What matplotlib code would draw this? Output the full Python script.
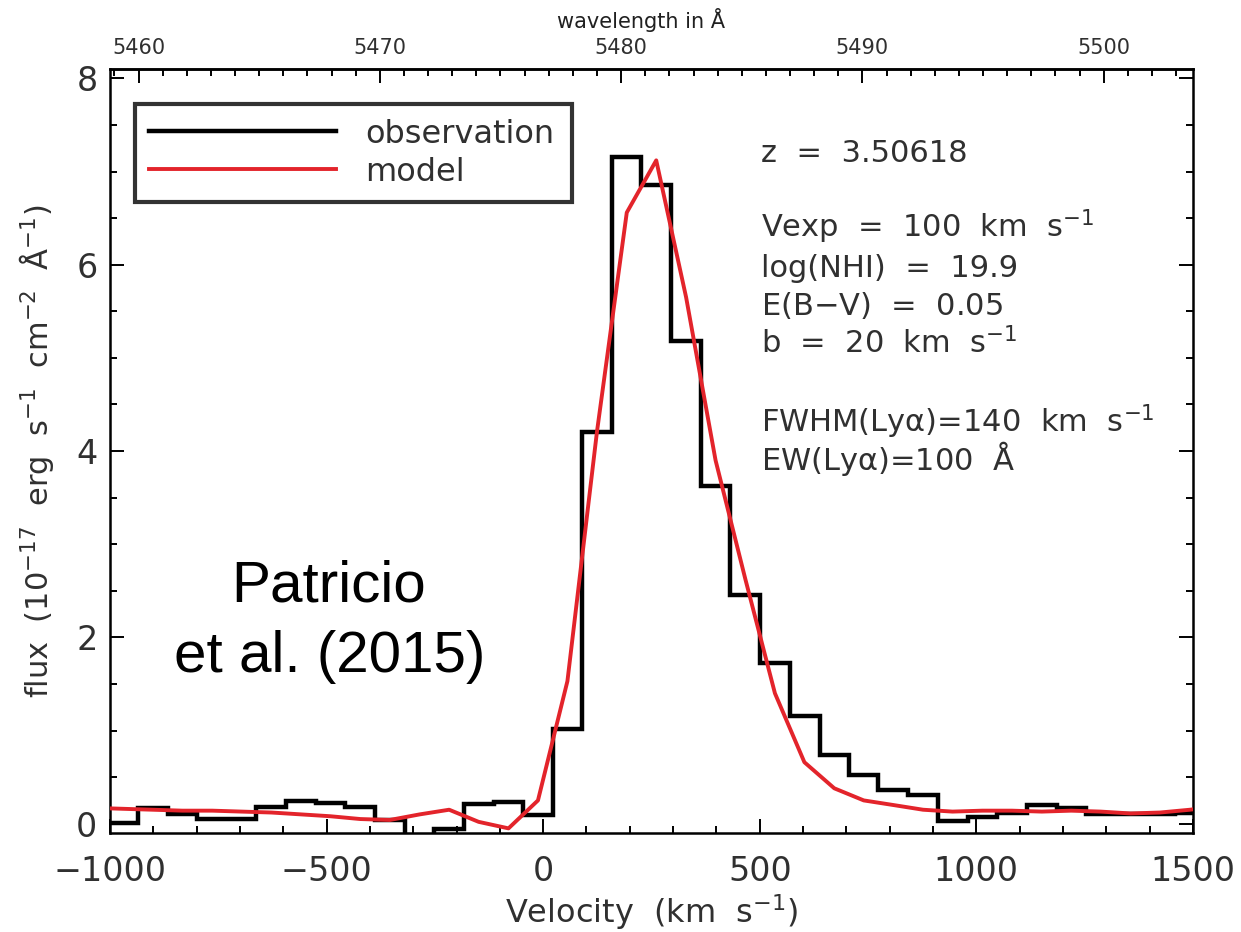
import matplotlib
matplotlib.use("Agg")
import matplotlib.pyplot as plt
from matplotlib.ticker import FixedLocator, MultipleLocator

plt.rcParams["font.family"] = ["DejaVu Sans"]
plt.rcParams["mathtext.default"] = "regular"

# observed spectrum: bin edges (km/s) and flux per bin
obs_edges = [-1004, -936, -867, -799, -730, -662, -594, -525, -457, -388,
             -320, -252, -183, -114, -46, 22, 90, 159, 227, 296,
             364, 432, 501, 569, 638, 706, 774, 843, 911, 980,
             1048, 1117, 1185, 1253, 1322, 1390, 1459, 1527]
obs_flux = [0.01, 0.17, 0.10, 0.05, 0.05, 0.18, 0.245, 0.22, 0.18, 0.04,
            -0.15, -0.06, 0.21, 0.23, 0.09, 1.02, 4.20, 7.16, 6.86, 5.18,
            3.62, 2.45, 1.72, 1.16, 0.74, 0.52, 0.36, 0.31, 0.03, 0.075,
            0.11, 0.20, 0.17, 0.10, 0.10, 0.10, 0.11]

# model spectrum sampled at bin centres
model_v = [-1038, -970, -901, -833, -764, -696, -627, -559, -491, -422,
           -354, -285, -217, -149, -80, -12, 56, 124, 193, 261,
           330, 398, 467, 535, 603, 672, 740, 809, 877, 945,
           1014, 1082, 1151, 1219, 1287, 1356, 1424, 1493, 1561]
model_flux = [0.17, 0.16, 0.15, 0.14, 0.14, 0.13, 0.12, 0.10, 0.08, 0.05,
              0.04, 0.10, 0.15, 0.02, -0.05, 0.25, 1.53, 4.2, 6.56, 7.12,
              5.65, 3.9, 2.62, 1.40, 0.66, 0.38, 0.25, 0.20, 0.15, 0.13,
              0.14, 0.14, 0.13, 0.14, 0.13, 0.11, 0.12, 0.15, 0.19]

fit_text = [
    "z  =  3.50618",
    "Vexp  =  100  km  s$^{-1}$",
    "log(NHI)  =  19.9",
    "E(B$-$V)  =  0.05",
    "b  =  20  km  s$^{-1}$",
    "FWHM(Ly$\\alpha$)=140  km  s$^{-1}$",
    "EW(Ly$\\alpha$)=100  Å",
]
fit_text_y = [0.878, 0.779, 0.728, 0.678, 0.628, 0.525, 0.475]

wave_ticks = [5460, 5470, 5480, 5490, 5500]

# wavelength <-> velocity for the top axis
lam_ref, v_ref, v_per_A = 5480.0, 180.0, 55.7


def v2lam(v):
    return lam_ref + (v - v_ref) / v_per_A


def lam2v(lam):
    return v_ref + (lam - lam_ref) * v_per_A


txt_col = "#303030"
red = "#e3242b"

fig = plt.figure(figsize=(12.41, 9.32), dpi=100)
ax = fig.add_axes([0.0886, 0.1062, 0.8727, 0.8197])

ax.stairs(obs_flux, obs_edges, color="black", linewidth=3.2, label="observation",
          zorder=2)
ax.plot(model_v, model_flux, color=red, linewidth=2.8, label="model", zorder=3)

ax.set_xlim(-1000, 1500)
ax.set_ylim(-0.1, 8.1)

ax.xaxis.set_major_locator(MultipleLocator(500))
ax.xaxis.set_minor_locator(MultipleLocator(100))
ax.yaxis.set_major_locator(MultipleLocator(2))
ax.yaxis.set_minor_locator(MultipleLocator(0.5))
ax.tick_params(which="both", direction="in", top=False, right=True,
               width=1.4, colors="black", labelcolor=txt_col)
ax.tick_params(which="major", length=10, labelsize=24)
ax.tick_params(which="minor", length=5)
ax.tick_params(axis="x", which="major", pad=16)
ax.tick_params(axis="y", which="major", pad=9)
for sp in ax.spines.values():
    sp.set_linewidth(1.8)

ax.set_xlabel("Velocity  (km  s$^{-1}$)", fontsize=23, color=txt_col, labelpad=3)
ax.set_ylabel("flux  (10$^{-17}$  erg  s$^{-1}$  cm$^{-2}$  Å$^{-1}$)", fontsize=22,
              color=txt_col)
ax.yaxis.set_label_coords(-0.05, 0.5)

top = ax.secondary_xaxis("top", functions=(v2lam, lam2v))
top.xaxis.set_major_locator(FixedLocator(wave_ticks))
top.xaxis.set_minor_locator(MultipleLocator(1))
top.tick_params(which="both", direction="in", width=1.4, labelsize=15,
                labelcolor=txt_col)
top.tick_params(which="major", length=10, pad=8)
top.tick_params(which="minor", length=5)
top.spines["top"].set_linewidth(1.8)
top.set_xlabel("wavelength in Å", fontsize=15, color="#202020", labelpad=7)
top.xaxis.label.set_position((0.49, 1))

leg = ax.legend(loc="upper left", bbox_to_anchor=(0.023, 0.954 - 0.128, 0.404, 0.128),
                mode="expand", fontsize=23, frameon=True, fancybox=False,
                handlelength=5.85, handletextpad=0.9, borderpad=0.45,
                labelspacing=0.22, borderaxespad=0)
leg.get_frame().set_edgecolor("black")
leg.get_frame().set_linewidth(3)
for t in leg.get_texts():
    t.set_color(txt_col)

for s, y in zip(fit_text, fit_text_y):
    ax.text(0.601, y, s, transform=ax.transAxes, fontsize=22, color=txt_col,
            ha="left", va="baseline")

fig.text(329 / 1241, 1 - 602 / 932, "Patricio", fontsize=42,
         family="Liberation Sans", ha="center", va="baseline", color="black")
fig.text(330 / 1241, 1 - 672 / 932, "et al. (2015)", fontsize=42,
         family="Liberation Sans", ha="center", va="baseline", color="black")

fig.savefig("out.png", dpi=100)
